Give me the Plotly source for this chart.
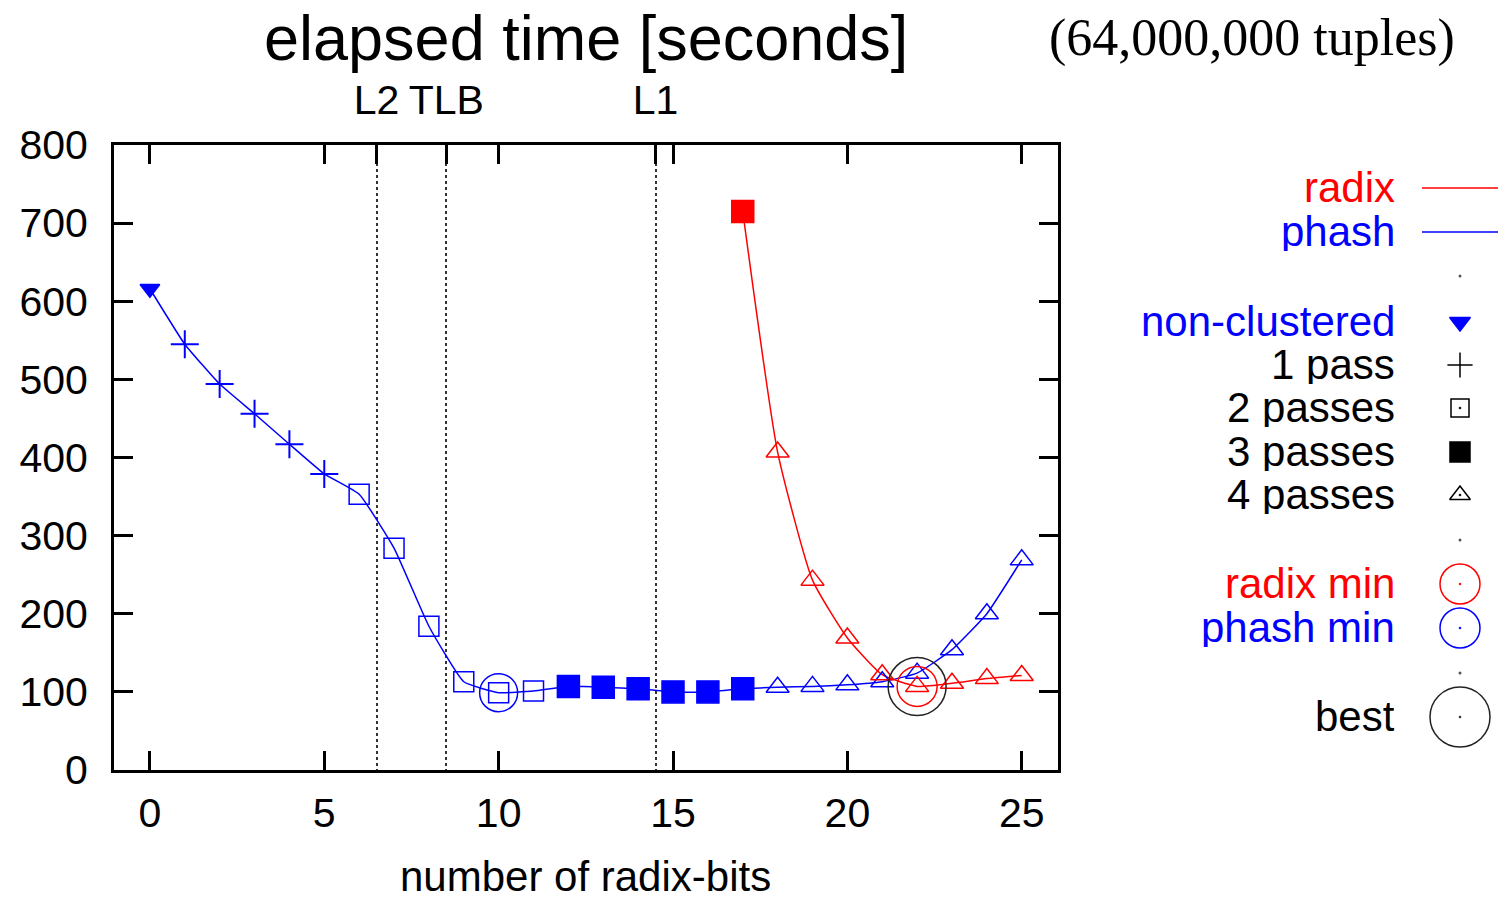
import plotly.graph_objects as go

# ---------------- data ----------------
bits = list(range(0, 26))
phash_time = [616, 545, 494, 456, 417, 379, 353, 284, 184, 113, 99, 101, 107, 106,
              104, 100, 100, 104, 106, 107, 109, 113, 124, 154, 200, 269]
phash_passes = [0, 1, 1, 1, 1, 1, 2, 2, 2, 2, 2, 2, 3, 3, 3, 3, 3, 3,
                4, 4, 4, 4, 4, 4, 4, 4]

radix_bits = list(range(17, 26))
radix_time = [715, 407, 243, 169, 122, 107, 111, 117, 121]
radix_passes = [3, 4, 4, 4, 4, 4, 4, 4, 4]

best_series = "radix"
best_bits = 22

cache_bits = [6.5, 8.5, 14.5]
cache_labels = ["L2", "TLB", "L1"]

x_ticks = [0, 5, 10, 15, 20, 25]
y_ticks = [0, 100, 200, 300, 400, 500, 600, 700, 800]

legend_pass_labels = ["non-clustered", "1 pass", "2 passes", "3 passes", "4 passes"]

# ---------------- styles ----------------
RED = "#ff0000"
BLUE = "#0000ff"
FONT = "Liberation Sans, Arial, sans-serif"
pass_symbol = {0: "triangle-down", 1: "cross-thin", 2: "square-open", 3: "square", 4: "triangle-up-open"}
pass_size = {0: 17, 1: 20, 2: 20, 3: 22, 4: 20}

W, H = 1503, 900
L, R, T, B = 114, 0, 145, 130
PW = W - L - R
PH = H - T - B
X_RIGHT = 1058  # right edge of plot frame in px


def px(X):
    return (X - L) / PW


def py(Y):
    return (H - B - Y) / PH


fig = go.Figure()

# lines
fig.add_trace(go.Scatter(x=bits, y=phash_time, mode="lines",
                         line=dict(color=BLUE, width=1.5, shape="spline", smoothing=0.4),
                         hoverinfo="skip", showlegend=False))
fig.add_trace(go.Scatter(x=radix_bits, y=radix_time, mode="lines",
                         line=dict(color=RED, width=1.5, shape="spline", smoothing=0.5),
                         hoverinfo="skip", showlegend=False))


def add_pass_markers(xs, ys, passes, color):
    for p in sorted(set(passes)):
        sx = [x for x, q in zip(xs, passes) if q == p]
        sy = [y for y, q in zip(ys, passes) if q == p]
        fig.add_trace(go.Scatter(
            x=sx, y=sy, mode="markers",
            marker=dict(symbol=pass_symbol[p], size=pass_size[p], color=color,
                        line=dict(color=color, width=2 if p == 1 else 1.5)),
            cliponaxis=False, showlegend=False))


add_pass_markers(bits, phash_time, phash_passes, BLUE)
add_pass_markers(radix_bits, radix_time, radix_passes, RED)

# minima
pi = min(range(len(phash_time)), key=lambda i: phash_time[i])
ri = min(range(len(radix_time)), key=lambda i: radix_time[i])
fig.add_trace(go.Scatter(x=[bits[pi]], y=[phash_time[pi]], mode="markers",
                         marker=dict(symbol="circle-open", size=38, color=BLUE, line=dict(width=1.5)),
                         showlegend=False))
fig.add_trace(go.Scatter(x=[radix_bits[ri]], y=[radix_time[ri]], mode="markers",
                         marker=dict(symbol="circle-open", size=40, color=RED, line=dict(width=1.5)),
                         showlegend=False))
if best_series == "radix":
    by = radix_time[radix_bits.index(best_bits)]
else:
    by = phash_time[bits.index(best_bits)]
fig.add_trace(go.Scatter(x=[best_bits], y=[by], mode="markers",
                         marker=dict(symbol="circle-open", size=58, color="#222222", line=dict(width=1.5)),
                         showlegend=False))

# ---------------- custom key (right side, pixel axes) ----------------
KX = 1460
rows = [188, 232, 276, 322, 365, 408, 452, 495, 540, 584, 628, 673, 717]

fig.add_trace(go.Scatter(x=[1422, 1498], y=[rows[0]] * 2, mode="lines", line=dict(color=RED, width=1.5),
                         xaxis="x3", yaxis="y3", showlegend=False, cliponaxis=False))
fig.add_trace(go.Scatter(x=[1422, 1498], y=[rows[1]] * 2, mode="lines", line=dict(color=BLUE, width=1.5),
                         xaxis="x3", yaxis="y3", showlegend=False, cliponaxis=False))
for r in (rows[2], rows[8], rows[11]):
    fig.add_trace(go.Scatter(x=[KX], y=[r], mode="markers", marker=dict(size=3, color="#555555"),
                             xaxis="x3", yaxis="y3", showlegend=False))
for k in range(5):
    col = BLUE if k == 0 else "black"
    sym = "square-open-dot" if k == 2 else ("triangle-up-open-dot" if k == 4 else pass_symbol[k])
    fig.add_trace(go.Scatter(x=[KX], y=[rows[3 + k]], mode="markers",
                             marker=dict(symbol=sym, size=(18 if k != 3 else 20), color=col,
                                         line=dict(color=col, width=1.5)),
                             xaxis="x3", yaxis="y3", showlegend=False, cliponaxis=False))
for r, c, s in ((rows[9], RED, 40), (rows[10], BLUE, 40), (rows[12], "#222222", 60)):
    fig.add_trace(go.Scatter(x=[KX], y=[r], mode="markers",
                             marker=dict(symbol="circle-open-dot", size=s, color=c, line=dict(width=1.5)),
                             xaxis="x3", yaxis="y3", showlegend=False, cliponaxis=False))

key_texts = [("radix", RED, rows[0]), ("phash", BLUE, rows[1]),
             (legend_pass_labels[0], BLUE, rows[3]), (legend_pass_labels[1], "black", rows[4]),
             (legend_pass_labels[2], "black", rows[5]), (legend_pass_labels[3], "black", rows[6]),
             (legend_pass_labels[4], "black", rows[7]),
             ("radix min", RED, rows[9]), ("phash min", BLUE, rows[10]), ("best", "black", rows[12])]
annotations = []
for t, c, r in key_texts:
    annotations.append(dict(text=t, x=1397, y=r - 1, xref="x3", yref="y3", xanchor="right",
                            yanchor="middle", showarrow=False, height=40, valign="middle",
                            font=dict(family=FONT, size=42, color=c)))

annotations.append(dict(text="elapsed time [seconds]", x=px(586), y=py(38), xref="paper", yref="paper",
                        xanchor="center", yanchor="middle", showarrow=False,
                        font=dict(family=FONT, size=63, color="black")))
annotations.append(dict(text="(64,000,000 tuples)", x=px(1252), y=py(38), xref="paper", yref="paper",
                        xanchor="center", yanchor="middle", showarrow=False,
                        font=dict(family="Liberation Serif, Times New Roman, serif", size=52, color="black")))
annotations.append(dict(text="number of radix-bits", x=px(585), y=py(876), xref="paper", yref="paper",
                        xanchor="center", yanchor="middle", showarrow=False,
                        font=dict(family=FONT, size=42, color="black")))

dom_x = (X_RIGHT - L) / PW

fig.update_layout(
    width=W, height=H,
    margin=dict(l=L, r=R, t=T, b=B, pad=0),
    paper_bgcolor="white", plot_bgcolor="white",
    showlegend=False,
    annotations=annotations,
    xaxis=dict(domain=[0, dom_x], range=[-1.03, 26.04], tickvals=x_ticks, ticks="inside", ticklen=19,
               tickwidth=3, tickcolor="black", showline=True, linecolor="black", linewidth=3,
               mirror="ticks", showgrid=False, zeroline=False, ticklabelstandoff=5,
               tickfont=dict(family=FONT, size=41, color="black")),
    yaxis=dict(domain=[0, 1], range=[0, 800], tickvals=y_ticks, ticks="inside", ticklen=19,
               tickwidth=3, tickcolor="black", showline=True, linecolor="black", linewidth=3,
               mirror="ticks", showgrid=False, zeroline=False, ticklabelstandoff=15,
               tickfont=dict(family=FONT, size=41, color="black")),
    xaxis2=dict(overlaying="x", side="top", range=[-1.03, 26.04], tickvals=cache_bits,
                ticktext=cache_labels, ticks="inside", ticklen=19, tickwidth=3, tickcolor="black",
                showline=False, showgrid=True, griddash="dot", gridcolor="#333333", gridwidth=1.5,
                zeroline=False, ticklabelstandoff=22, tickfont=dict(family=FONT, size=41, color="black")),
    xaxis3=dict(domain=[dom_x, 1], range=[X_RIGHT, W], visible=False, fixedrange=True, anchor="y3"),
    yaxis3=dict(domain=[0, 1], range=[H - B, T], visible=False, fixedrange=True, anchor="x3"),
)
# invisible trace on x2 so the top axis is rendered
fig.add_trace(go.Scatter(x=[cache_bits[0]], y=[0], xaxis="x2", mode="markers",
                         marker=dict(size=0.1, opacity=0), showlegend=False, hoverinfo="skip"))

fig.write_html("out.html", config={"displayModeBar": False},
               post_script="document.body.style.margin='0px';document.body.style.padding='0px';")
